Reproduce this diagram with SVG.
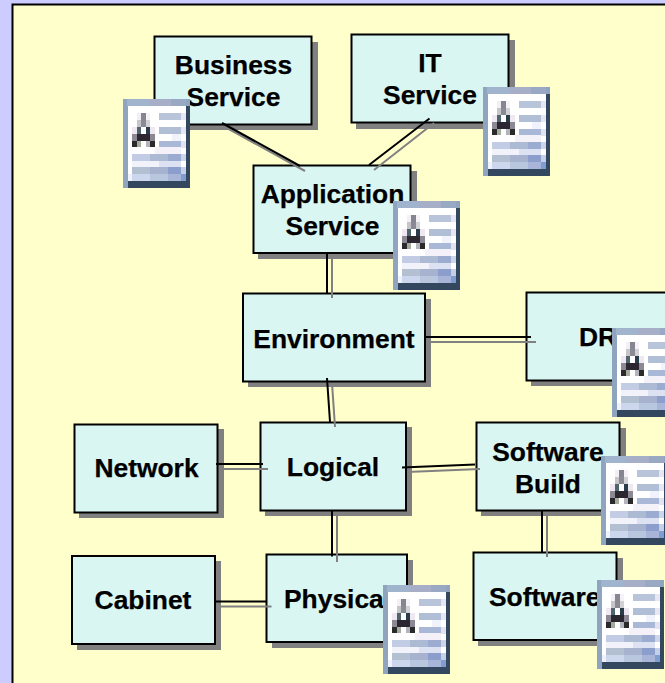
<svg xmlns="http://www.w3.org/2000/svg" width="665" height="683" viewBox="0 0 665 683">
<style>
.shadow{fill:#808080}
.box{fill:#daf6f2;stroke:#000;stroke-width:2}
text{font-family:"Liberation Sans",Arial,sans-serif;font-weight:700;font-size:26.4px;fill:#000;stroke:#000;stroke-width:.25}
.m{text-anchor:middle}
.k{stroke:#000;stroke-width:2;fill:none}
.g{stroke:#808080;stroke-width:2;fill:none}
</style>
<defs>
<g id="doc" shape-rendering="crispEdges">
<rect width="67" height="89" fill="#8fa4bf"/>
<rect x="4.5" y="7" width="58.5" height="75" fill="#fff"/>
<rect x="63" y="7" width="4" height="82" fill="#33475f"/>
<rect x="4.5" y="82" width="62.5" height="7" fill="#33475f"/>
<rect x="4" width="22" height="7" fill="#a0b4cd"/>
<rect x="26" width="22" height="7" fill="#a6aec8"/>
<rect x="48" width="15" height="7" fill="#99a9c4"/>
<rect x="13.500" y="14" width="4.500" height="7" fill="#f4eef6"/>
<rect x="18" y="14" width="4.500" height="7" fill="#868690"/>
<rect x="22.500" y="14" width="4.500" height="7" fill="#f7f2f8"/>
<rect x="13.500" y="21" width="4.500" height="6.500" fill="#c6c6c8"/>
<rect x="18" y="21" width="4.500" height="6.500" fill="#8a8a94"/>
<rect x="22.500" y="21" width="4.500" height="6.500" fill="#d2d2d4"/>
<rect x="9" y="27.500" width="4.500" height="7" fill="#efe8f0"/>
<rect x="13.500" y="27.500" width="4.500" height="7" fill="#52646e"/>
<rect x="22.500" y="27.500" width="4.500" height="7" fill="#2a3c4a"/>
<rect x="27" y="27.500" width="4.500" height="7" fill="#efe8f0"/>
<rect x="9" y="34.500" width="4.500" height="7" fill="#8c8894"/>
<rect x="13.500" y="34.500" width="13.500" height="7" fill="#2c2630"/>
<rect x="27" y="34.500" width="4.500" height="7" fill="#8c8894"/>
<rect x="9" y="41.500" width="4.500" height="6.500" fill="#2a2a2a"/>
<rect x="13.500" y="41.500" width="4.500" height="6.500" fill="#a4aca0"/>
<rect x="22.500" y="41.500" width="4.500" height="6.500" fill="#b4b4bc"/>
<rect x="27" y="41.500" width="4.500" height="6.500" fill="#2a2a2a"/>
<rect x="36" y="14" width="22" height="7" fill="#b8c4da"/><rect x="58" y="14" width="4.500" height="7" fill="#e6e6f4"/>
<rect x="36" y="27.500" width="22" height="7" fill="#b0bed6"/><rect x="58" y="27.500" width="4.500" height="7" fill="#e6e6f4"/>
<rect x="49" y="34.500" width="9" height="7" fill="#f0f2fc"/>
<rect x="36" y="41.500" width="22" height="7" fill="#a8b8d6"/><rect x="58" y="41.500" width="4.500" height="7" fill="#e2e2f0"/>
<rect x="32" y="48" width="26" height="7" fill="#f4f2f8"/>
<rect x="9" y="55" width="18" height="7" fill="#c2cce4"/><rect x="27" y="55" width="18" height="7" fill="#acbad4"/><rect x="45" y="55" width="13" height="7" fill="#9cacd0"/><rect x="58" y="55" width="4.500" height="7" fill="#ccd6ea"/>
<rect x="9" y="62" width="27" height="6" fill="#f2f2fa"/><rect x="36" y="62" width="22" height="6" fill="#dce2f2"/>
<rect x="9" y="68" width="18" height="7" fill="#b2c0d2"/><rect x="27" y="68" width="18" height="7" fill="#a6b2ce"/><rect x="45" y="68" width="13" height="7" fill="#8c9ecc"/><rect x="58" y="68" width="4.500" height="7" fill="#c4d0e8"/>
<rect x="4.500" y="75" width="4.500" height="7" fill="#eef2fc"/><rect x="9" y="75" width="18" height="7" fill="#ccd6ec"/><rect x="27" y="75" width="18" height="7" fill="#b8c6de"/><rect x="45" y="75" width="13" height="7" fill="#a8b4d8"/><rect x="58" y="75" width="4.500" height="7" fill="#7f9dd0"/>
</g>
</defs>
<rect width="665" height="683" fill="#ccccff"/>
<rect x="12.500" y="4.500" width="670" height="690" fill="#ffffcc" stroke="#000" stroke-width="2"/>
<g id="node-business">
<rect class="shadow" x="159" y="42" width="159" height="88"/>
<rect class="box" x="154.500" y="36.500" width="157" height="88"/>
<text class="m" x="233.500" y="74">Business</text><text class="m" x="233.500" y="105.500">Service</text>
<use href="#doc" x="123" y="99"/>
</g>
<g id="node-it">
<rect class="shadow" x="356" y="40" width="159" height="89"/>
<rect class="box" x="351.500" y="34.500" width="157" height="88"/>
<text class="m" x="430" y="72">IT</text><text class="m" x="430" y="104">Service</text>
<use href="#doc" x="483" y="87"/>
</g>
<g id="node-application">
<rect class="shadow" x="258" y="171" width="159" height="88"/>
<rect class="box" x="253.500" y="165.500" width="157" height="87.500"/>
<text class="m" x="332.500" y="203">Application</text><text class="m" x="332.500" y="235">Service</text>
<use href="#doc" x="393" y="201"/>
</g>
<g id="node-environment">
<rect class="shadow" x="248" y="299" width="183" height="88"/>
<rect class="box" x="243" y="293.500" width="182" height="88"/>
<text class="m" x="334" y="348">Environment</text>
</g>
<g id="node-dr">
<rect class="shadow" x="531" y="298" width="160" height="88"/>
<rect class="box" x="526.500" y="292.500" width="160" height="88"/>
<text x="579" y="346">DR</text>
<use href="#doc" x="612" y="328"/>
</g>
<g id="node-network">
<rect class="shadow" x="79" y="429" width="145" height="89"/>
<rect class="box" x="74.500" y="424.500" width="143" height="88"/>
<text class="m" x="146.500" y="477">Network</text>
</g>
<g id="node-logical">
<rect class="shadow" x="265" y="427" width="147" height="89"/>
<rect class="box" x="260.500" y="422.500" width="145.500" height="88"/>
<text class="m" x="333" y="476">Logical</text>
</g>
<g id="node-software-build">
<rect class="shadow" x="481" y="428" width="145" height="88"/>
<rect class="box" x="476.500" y="422.500" width="143" height="88"/>
<text class="m" x="548" y="460.500">Software</text><text class="m" x="548" y="492.500">Build</text>
<use href="#doc" x="601" y="456"/>
</g>
<g id="node-cabinet">
<rect class="shadow" x="77" y="561" width="144" height="89"/>
<rect class="box" x="72" y="556" width="143" height="88"/>
<text class="m" x="143" y="609">Cabinet</text>
</g>
<g id="node-physical">
<rect class="shadow" x="272" y="560" width="141" height="88"/>
<rect class="box" x="266.500" y="554.500" width="140.500" height="87.500"/>
<text x="284" y="607.500">Physical</text>
<use href="#doc" x="383" y="585"/>
</g>
<g id="node-software">
<rect class="shadow" x="478" y="558" width="145" height="88"/>
<rect class="box" x="473.500" y="552.500" width="143" height="87.500"/>
<text x="489" y="605.500">Software</text>
<use href="#doc" x="597" y="580"/>
</g>
<g id="connectors">
<path class="g" d="M227 128L305 171M434 123L374 170M332 258V298M332 383L335 427M429 342H536M407 472L480 469M221 469H268M337 515V562M219 606.500H271.500M547 515V557"/>
<path class="k" d="M222 123L300 166M429.500 118.500L369 165M327 253V293M327 378L330 422M424 337H531M402 467.500L475 464.500M216 464H263M332 510V556.500M214 601.500H266.500M542 510V552"/>
</g>
</svg>
